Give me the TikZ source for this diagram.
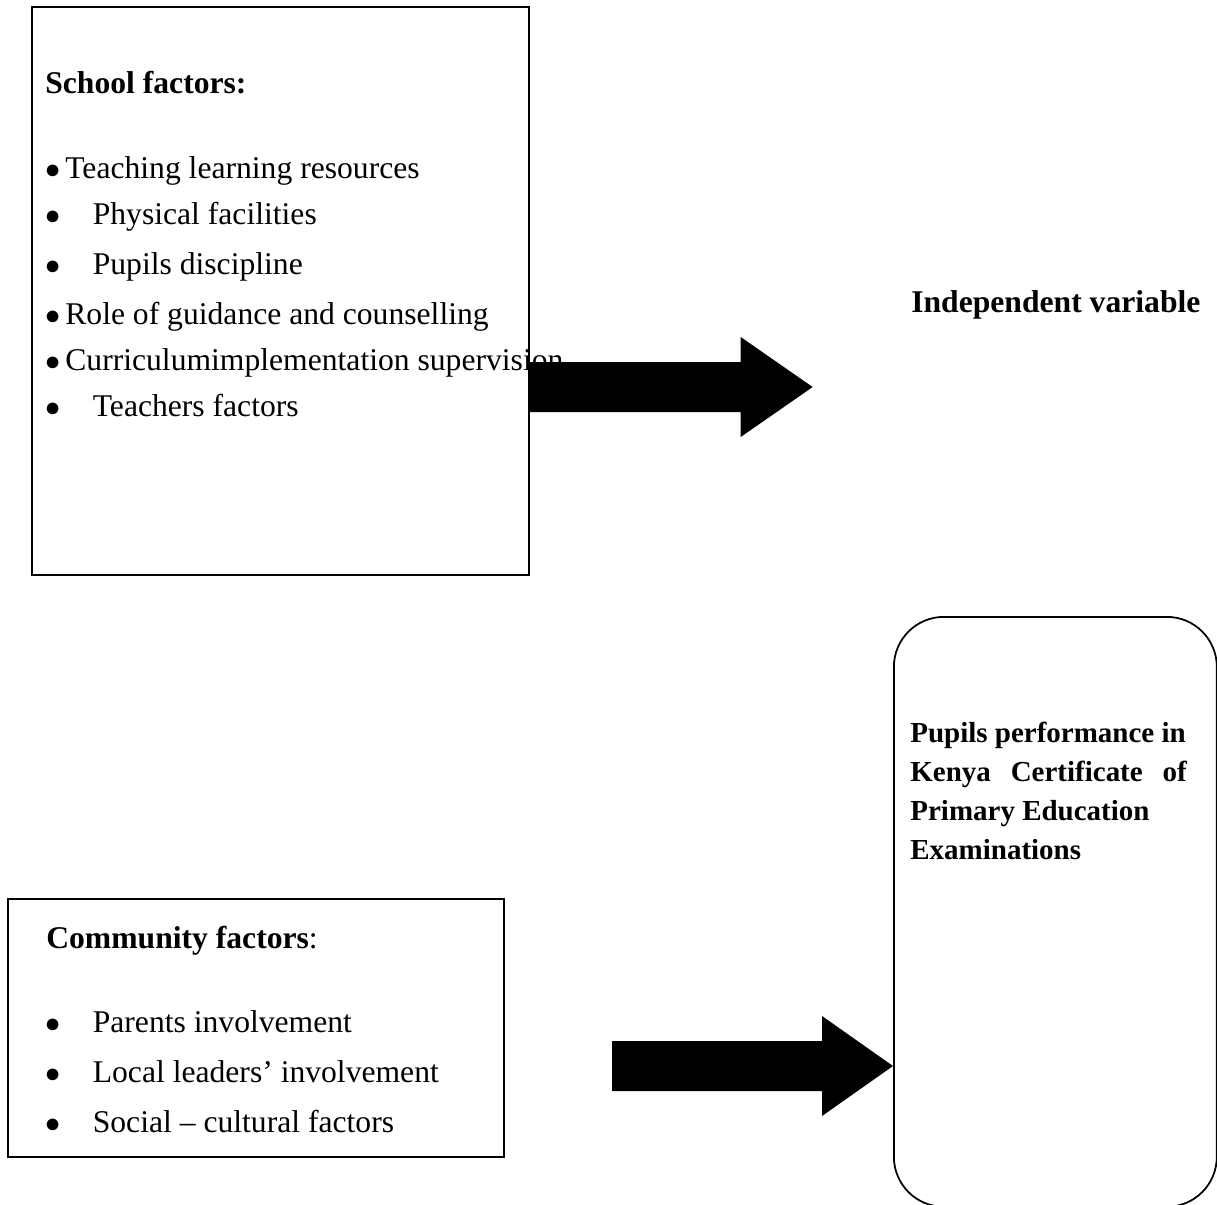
\documentclass[tikz,border=0pt]{standalone}
\usepackage{fontspec}
\setmainfont{Liberation Serif}
\tikzset{
  factorbox/.style={draw, line width=1pt, anchor=north west, inner sep=0pt},
  itemtext/.style={anchor=base west, inner sep=0pt, font=\fontsize{18}{22}\selectfont},
  headtext/.style={anchor=base west, inner sep=0pt, font=\fontsize{18}{22}\selectfont\bfseries},
  resulttext/.style={anchor=base west, inner sep=0pt, font=\fontsize{16.5}{20}\selectfont\bfseries},
  blockarrow/.style={fill=black},
}
\newcommand{\narrowitem}[1]{\makebox[0.4cm][l]{$\bullet$}#1}
\newcommand{\wideitem}[1]{\makebox[0.95cm][l]{$\bullet$}#1}
\begin{document}
\begin{tikzpicture}[x=0.02cm, y=-0.02cm]
      \useasboundingbox (0,0) rectangle (1217,1204);
      % boxes
      \node[factorbox, minimum width=9.94cm, minimum height=11.36cm] (school) at (31,6) {};
      \node[factorbox, minimum width=9.92cm, minimum height=5.16cm] (community) at (7,898) {};
      \node[factorbox, rounded corners=1cm, minimum width=6.46cm, minimum height=11.8cm] (perf) at (893,616) {};
      % school factors
      \node[headtext] (shead) at (45,93) {School factors:};
      \node[itemtext] (s1) at (45,178) {\narrowitem{Teaching learning resources}};
      \node[itemtext] (s2) at (45,224) {\wideitem{Physical facilities}};
      \node[itemtext] (s3) at (45,274) {\wideitem{Pupils discipline}};
      \node[itemtext] (s4) at (45,324) {\narrowitem{Role of guidance and counselling}};
      \node[itemtext] (s5) at (45,370) {\narrowitem{Curriculumimplementation supervision}};
      \node[itemtext] (s6) at (45,416) {\wideitem{Teachers factors}};
      % community factors
      \node[itemtext] (chead) at (46,948) {\textbf{Community factors}:};
      \node[itemtext] (c1) at (45,1032) {\wideitem{Parents involvement}};
      \node[itemtext] (c2) at (45,1082) {\wideitem{Local leaders’ involvement}};
      \node[itemtext] (c3) at (45,1132) {\wideitem{Social – cultural factors}};
      % labels on the right
      \node[headtext] (indep) at (911,312) {Independent variable};
      \node[resulttext] (r1) at (910,742) {Pupils performance in};
      \node[resulttext] (r2) at (910,781) {\makebox[5.53cm][s]{Kenya Certificate of}};
      \node[resulttext] (r3) at (910,820) {Primary Education};
      \node[resulttext] (r4) at (910,859) {Examinations};
      % arrows
      \coordinate (uptail) at (school.east |- 0,387);
      \coordinate (lowtip) at (perf.west |- 0,1066);
      \fill[blockarrow] (uptail) ++(0,-25) -- ++(211,0) -- ++(0,-25) -- ++(72,50)
        -- ++(-72,50) -- ++(0,-25) -- ++(-211,0) -- cycle;
      \fill[blockarrow] (lowtip) ++(-281,-25) -- ++(210,0) -- ++(0,-25) -- ++(71,50)
        -- ++(-71,50) -- ++(0,-25) -- ++(-210,0) -- cycle;
    \end{tikzpicture}
\end{document}
